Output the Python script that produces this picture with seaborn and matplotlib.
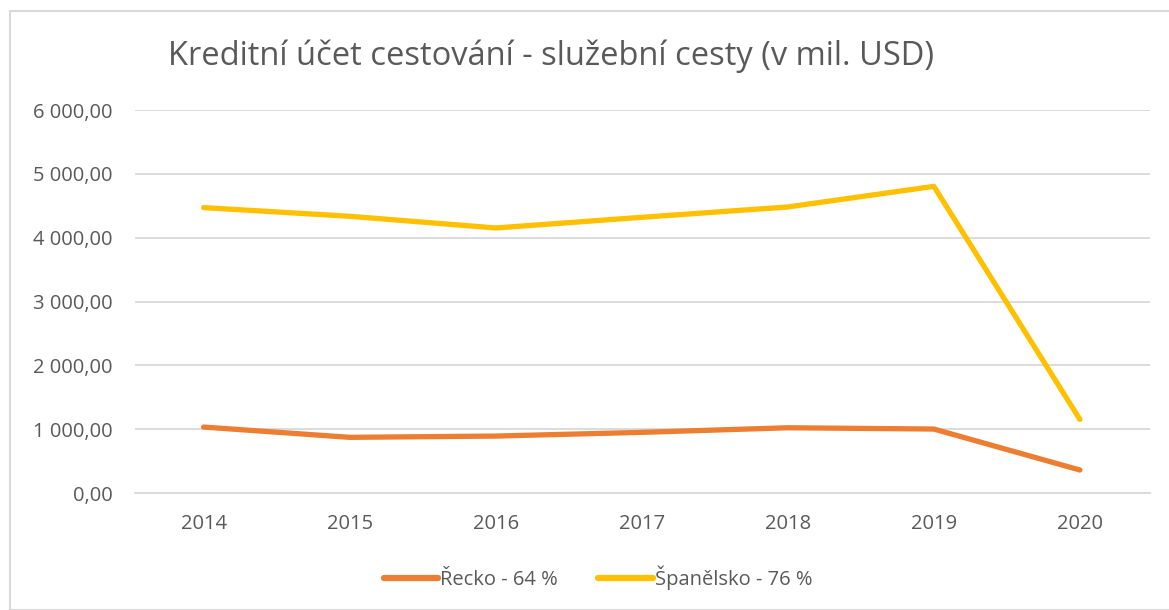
import numpy as np
import pandas as pd
import matplotlib.pyplot as plt
import matplotlib.patches as patches
import seaborn as sns

years = [2014, 2015, 2016, 2017, 2018, 2019, 2020]
recko = [1033, 872, 892, 950, 1022, 1002, 360]
spanelsko = [4471, 4335, 4152, 4319, 4481, 4804, 1153]
series_names = ["Řecko - 64 %", "Španělsko - 76 %"]
colors = ["#ED7D31", "#FFC000"]

df = pd.DataFrame({
    "rok": years * 2,
    "hodnota": recko + spanelsko,
    "zeme": [series_names[0]] * len(years) + [series_names[1]] * len(years),
})

sns.set_style("white")
plt.rcParams["font.family"] = ["Open Sans", "DejaVu Sans"]
text_col = "#595959"
grid_col = "#d9d9d9"

fig = plt.figure(figsize=(11.69, 6.10), dpi=100)
ax = fig.add_axes([135 / 1169, 117 / 610, 1015 / 1169, 383 / 610])

sns.lineplot(data=df, x="rok", y="hodnota", hue="zeme", palette=colors,
             linewidth=3.8, ax=ax, legend=True)
for line in ax.lines:
    line.set_solid_capstyle("round")
    line.set_solid_joinstyle("round")

ax.set_xlim(2013.53, 2020.48)
ax.set_ylim(0, 6000)
ax.set_xticks(years)
ax.set_xticklabels([str(y) for y in years])
ax.set_yticks(np.arange(0, 6001, 1000))
ax.set_yticklabels([f"{int(v):,}".replace(",", " ") + ",00" for v in np.arange(0, 6001, 1000)])
ax.grid(axis="y", color=grid_col, linewidth=1.3)
ax.set_axisbelow(True)
for s in ["top", "right", "left"]:
    ax.spines[s].set_visible(False)
ax.spines["bottom"].set_color(grid_col)
ax.spines["bottom"].set_linewidth(1.3)
ax.tick_params(axis="both", length=0, labelsize=14.5, colors=text_col)
ax.tick_params(axis="x", pad=15)
ax.tick_params(axis="y", pad=16)
ax.set_xlabel("")
ax.set_ylabel("")

fig.text(168 / 1169, 1 - 56 / 610, "Kreditní účet cestování - služební cesty (v mil. USD)",
         fontsize=23.5, color=text_col, va="center", ha="left")

leg = ax.legend(loc="center", bbox_to_anchor=(598 / 1169, 1 - 578 / 610),
                bbox_transform=fig.transFigure, ncol=2, frameon=False,
                fontsize=14.5, handlelength=2.7, handletextpad=0.1,
                columnspacing=2.0)
for t in leg.get_texts():
    t.set_color(text_col)
for h in leg.get_lines():
    h.set_linewidth(4.5)
    h.set_solid_capstyle("round")

fig.patches.append(patches.Rectangle((10 / 1169, 0), 1.0, 1 - 11 / 610,
                                     transform=fig.transFigure, fill=False,
                                     edgecolor=grid_col, linewidth=1.5))

fig.savefig("out.png", dpi=100)
